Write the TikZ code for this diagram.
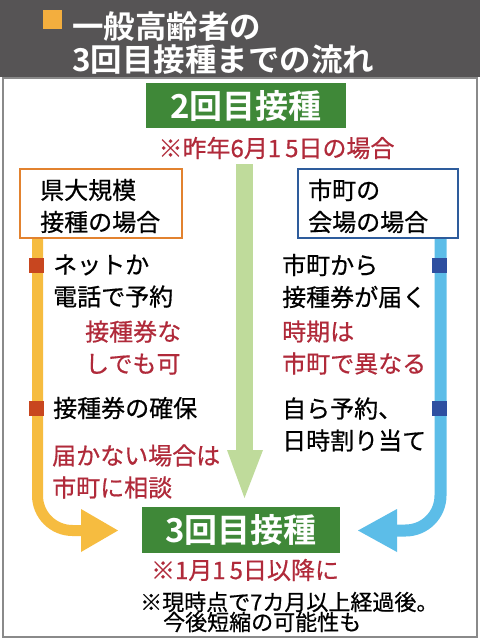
\documentclass[tikz,border=0pt]{standalone}
\usepackage{fontspec}
\setmainfont{Noto Sans CJK JP}[BoldFont={Noto Sans CJK JP Bold}]
\newfontfamily\medfont{Noto Sans CJK JP}[FakeBold=0.6]
\definecolor{hdr}{HTML}{565455}
\definecolor{sqor}{HTML}{F3AE3E}
\definecolor{boxgreen}{HTML}{3F8838}
\definecolor{notered}{HTML}{B02A3A}
\definecolor{ltgreen}{HTML}{BFDB9B}
\definecolor{barorange}{HTML}{F6BC40}
\definecolor{barblue}{HTML}{5CBDE8}
\definecolor{mkred}{HTML}{C8461F}
\definecolor{mkblue}{HTML}{2E4FA0}
\definecolor{bdorange}{HTML}{E2822F}
\definecolor{bdblue}{HTML}{2E5C9C}
\definecolor{frame}{HTML}{8A8A8A}
\tikzset{
  titletext/.style={anchor=west, inner sep=0, text=white, font=\bfseries\fontsize{31.5}{32}\selectfont},
  greenbox/.style={fill=boxgreen, minimum width=200, minimum height=45, inner sep=0, text=white, font=\bfseries\fontsize{33}{33}\selectfont},
  casebox/.style={draw, line width=2.5, fill=white, minimum width=162, minimum height=69, inner sep=0},
  body/.style={anchor=west, inner sep=0, text=black, font=\medfont\fontsize{24}{32}\selectfont, align=left},
  rednote/.style={body, text=notered},
  bottomnote/.style={anchor=west, inner sep=0, text=black, font=\medfont\fontsize{22}{22}\selectfont},
  marker/.style={minimum width=15, minimum height=15, inner sep=0},
}
\begin{document}
\begin{tikzpicture}[x=1pt,y=-1pt]
\useasboundingbox (0,0) rectangle (480,640);
\fill[white] (0,0) rectangle (480,640);
\fill[hdr] (0,0) rectangle (480,77);
\draw[frame, line width=1.5] (3,78) rectangle (477,637);

% title
\node[fill=sqor, minimum size=19, inner sep=0] (sq) at (52,19.5) {};
\node[titletext] (t1) at (72,27) {一般高齢者の};
\node[titletext] (t2) at (72,60) {3回目接種までの流れ};

% top / bottom boxes
\node[greenbox] (n2) at (246,105.5) {2回目接種};
\node[text=notered, inner sep=0, font=\medfont\fontsize{24}{24}\selectfont] (d2) at (276.5,148) {※昨年6月1\,5日の場合};
\node[greenbox, minimum width=198, minimum height=46] (n3) at (241,530) {3回目接種};
\node[text=notered, inner sep=0, font=\medfont\fontsize{24}{24}\selectfont] (d3) at (245,570) {※1月1\,5日以降に};
\node[bottomnote] (b1) at (140,602) {※現時点で7カ月以上経過後。};
\node[bottomnote] (b2) at (163,622) {今後短縮の可能性も};

% coordinates for the flow bars
\coordinate (g0) at (244.5,164);
\coordinate (g1) at (244.5,451);
\coordinate (o0) at (37.5,238);
\coordinate (o1) at (37.5,530.5);
\coordinate (o2) at (82,530.5);
\coordinate (b0) at (440.5,238);
\coordinate (b1c) at (440.5,530.5);
\coordinate (b2c) at (396,530.5);

% flow bars
\draw[ltgreen, line width=17] (g0) -- (g1);
\fill[ltgreen] (227,450) -- (263,450) -- (244.5,498) -- cycle;
\draw[barorange, line width=11, rounded corners=35] (o0) -- (o1) -- (o2);
\fill[barorange] (81,509) -- (81,552) -- (118,530.5) -- cycle;
\draw[barblue, line width=12, rounded corners=35] (b0) -- (b1c) -- (b2c);
\fill[barblue] (397,509) -- (397,552) -- (358,530.5) -- cycle;

% case boxes
\node[casebox, draw=bdorange] (lb) at (101,203.5) {};
\node[body] (lbt) at (40,206) {県大規模\\接種の場合};
\node[casebox, draw=bdblue, minimum width=160] (rb) at (378,203.5) {};
\node[body] (rbt) at (308,206) {市町の\\会場の場合};

% markers
\node[marker, fill=mkred] (ml1) at (36,265) {};
\node[marker, fill=mkred] (ml2) at (36,408) {};
\node[marker, fill=mkblue] (mr1) at (439.5,265) {};
\node[marker, fill=mkblue] (mr2) at (439.5,408) {};

% left texts
\node[body] (l1) at (53,281) {ネットか\\電話で予約};
\node[rednote] (l2) at (85,347.5) {接種券な\\しでも可};
\node[body] (l3) at (53,408) {接種券の確保};
\node[rednote] (l4) at (52,471.5) {届かない場合は\\市町に相談};

% right texts
\node[body] (r1) at (282,281) {市町から\\接種券が届く};
\node[rednote] (r2) at (282,347.5) {時期は\\市町で異なる};
\node[body] (r3) at (282,424.5) {自ら予約、\\日時割り当て};
\end{tikzpicture}
\end{document}
